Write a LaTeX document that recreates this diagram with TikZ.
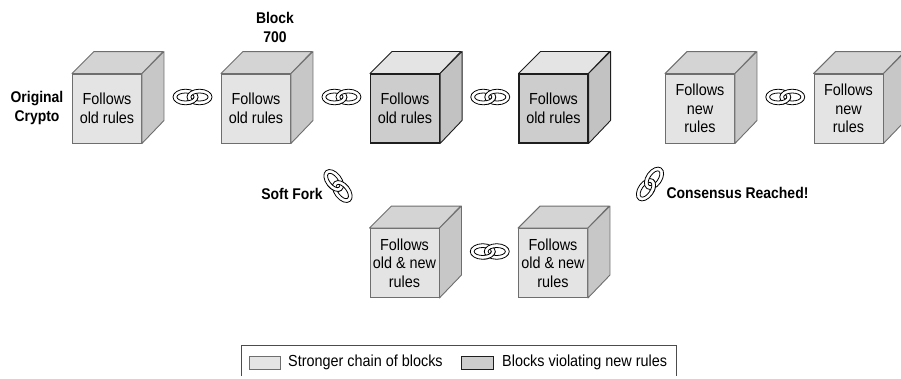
\documentclass[tikz,border=0pt]{standalone}
\usepackage{fontspec}
\setmainfont{Liberation Sans}[FakeStretch=0.9]
\usetikzlibrary{calc}
\definecolor{lfront}{HTML}{E4E4E4}
\definecolor{ltop}{HTML}{D4D4D4}
\definecolor{lright}{HTML}{C7C7C7}
\definecolor{ldraw}{HTML}{6E6E6E}
\definecolor{dfront}{HTML}{CDCDCD}
\definecolor{dtop}{HTML}{E4E4E4}
\definecolor{dright}{HTML}{C2C2C2}
\definecolor{ddraw}{HTML}{1E1E1E}
\tikzset{
  x=1pt, y=-1pt,
  basefont/.style={font=\fontsize{16}{18.5}\selectfont},
  cubelight/.style={basefont, draw=ldraw, fill=lfront, line width=0.9pt, minimum width=69pt, minimum height=69pt, inner sep=0pt, align=center},
  cubedark/.style={cubelight, draw=ddraw, fill=dfront, line width=1.1pt},
  lbl/.style={font=\fontsize{15.5}{19}\selectfont\bfseries, align=center, inner sep=0pt},
  legtext/.style={basefont, anchor=west, inner sep=0pt},
  ring/.style={fill=white, draw=black, line width=0.8pt, even odd rule},
  chainlink/.pic={
    \path[ring] (-7,0) ellipse [x radius=12.5pt, y radius=7.8pt] (-7,0) ellipse [x radius=8.6pt, y radius=4pt];
    \path[ring] (7,0) ellipse [x radius=12.5pt, y radius=7.8pt] (7,0) ellipse [x radius=8.6pt, y radius=4pt];
    \begin{scope}
      \clip (-6,0) rectangle (6,10);
      \path[ring] (-7,0) ellipse [x radius=12.5pt, y radius=7.8pt] (-7,0) ellipse [x radius=8.6pt, y radius=4pt];
    \end{scope}
  }
}
\newcommand{\cubefaces}[4]{%
  \filldraw[fill=#2, draw=#4, line width=0.9pt, line join=round]
    (#1.north west) -- ++(22,-22) -- ++(69,0) -- (#1.north east) -- cycle;
  \filldraw[fill=#3, draw=#4, line width=0.9pt, line join=round]
    (#1.north east) -- ++(22,-22) -- ++(0,69) -- (#1.south east) -- cycle;
}
\begin{document}
\begin{tikzpicture}
\useasboundingbox[fill=white] (0,0) rectangle (901,378);
% top row
\node[cubelight] (c1) at (107,108.5) {Follows\\old rules};
\node[cubelight] (c2) at (256,108.5) {Follows\\old rules};
\node[cubedark]  (c3) at (405,108.5) {Follows\\old rules};
\node[cubedark]  (c4) at (553.5,108.5) {Follows\\old rules};
\node[cubelight] (c5) at (700,108.5) {Follows\\new\\rules};
\node[cubelight] (c6) at (848.5,108.5) {Follows\\new\\rules};
% bottom row
\node[cubelight] (c7) at (404.5,263) {Follows\\old \& new\\rules};
\node[cubelight] (c8) at (553,263) {Follows\\old \& new\\rules};
\foreach \n in {c1,c2,c5,c6,c7,c8} {\cubefaces{\n}{ltop}{lright}{ldraw}}
\foreach \n in {c3,c4} {\cubefaces{\n}{dtop}{dright}{ddraw}}
% links
\pic at ($(c1.east)!0.5!(c2.west)+(11,-11.5)$) {chainlink};
\pic at ($(c2.east)!0.5!(c3.west)+(11,-11.5)$) {chainlink};
\pic at ($(c3.east)!0.5!(c4.west)+(11,-11.5)$) {chainlink};
\pic at ($(c5.east)!0.5!(c6.west)+(11,-11.5)$) {chainlink};
\pic at ($(c7.east)!0.5!(c8.west)+(11,-11.5)$) {chainlink};
\pic[rotate=-52] at (338,186) {chainlink};
\pic[rotate=55] at (650,184) {chainlink};
% labels
\node[lbl] (orig) at (37,108) {Original\\Crypto};
\node[lbl] (blk) at (275,27) {Block\\700};
\node[lbl] (soft) at (292,194) {Soft Fork};
\node[lbl] (cons) at (737.5,193) {Consensus Reached!};
% legend
\draw[draw=black!70, line width=0.9pt] (241,376) |- (676,345) -- (676,376);
\node[draw=ldraw, fill=lfront, line width=0.8pt, minimum width=31pt, minimum height=13pt, inner sep=0pt] (sw1) at (264.5,362.5) {};
\node[legtext] (t1) at (288,362) {Stronger chain of blocks};
\node[draw=ddraw, fill=dfront, line width=0.9pt, minimum width=32pt, minimum height=13pt, inner sep=0pt] (sw2) at (477,362.5) {};
\node[legtext] (t2) at (502,362) {Blocks violating new rules};
\end{tikzpicture}
\end{document}
